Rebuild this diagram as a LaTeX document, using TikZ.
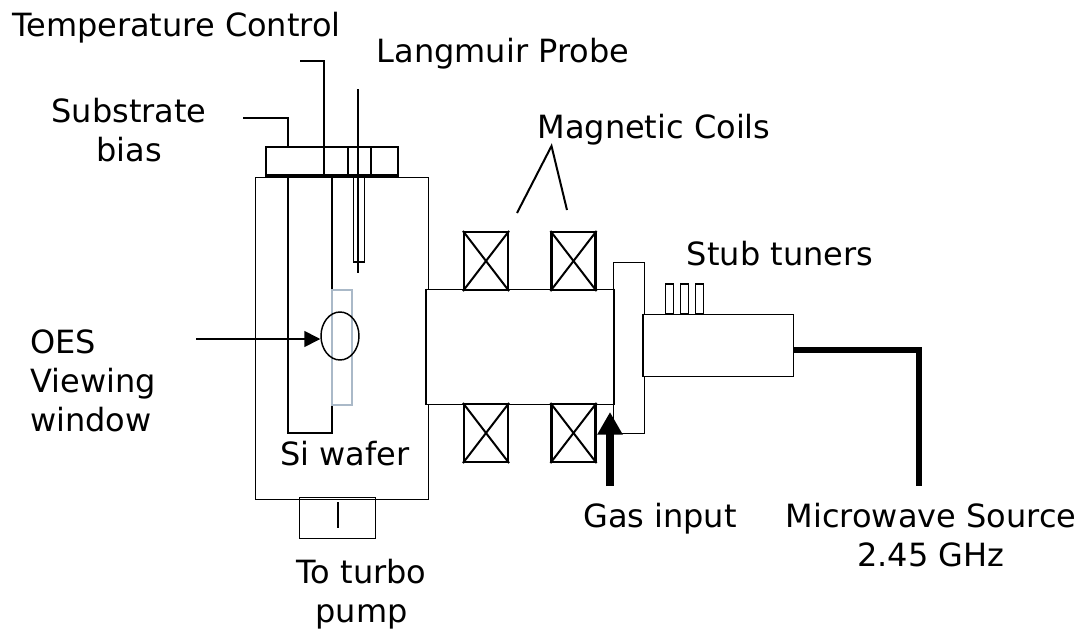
\documentclass[tikz,border=0pt]{standalone}
\usepackage{fontspec}
\setmainfont{DejaVu Sans}
\usetikzlibrary{arrows.meta,shapes.geometric}
\definecolor{WF}{RGB}{170,185,200}
\tikzset{
    LB/.style ={font=\fontsize{24}{29}\selectfont,align=center,inner sep=0pt,anchor=base},
    WL/.style ={line width=0.75pt},
    TL/.style ={line width=1.5pt},
    BX/.style ={rectangle,draw,inner sep=0pt},
    CO/.style ={rectangle,minimum width = 33pt, minimum height =43.5pt, draw, line width=1.6pt,inner sep=0pt},
    ST/.style ={rectangle,minimum width = 6.5pt, minimum height =22.5pt, draw, line width=0.9pt,inner sep=0pt},
    AR/.style ={-{Triangle[length=12pt,width=12pt]},line width=1.2pt}}

\begin{document}
\begin{tikzpicture}[x=0.75pt,y=-0.75pt]
        \useasboundingbox (0,0) rectangle (1083,632);
        % chamber, tube, flange, waveguide
        \node[BX,WL,minimum width=129.75pt,minimum height=241.5pt] (chamber) at(341.5,338){};
        \node[BX,TL,minimum width=99pt,minimum height=21pt] (top) at(332,161){};
        \node[BX,TL,minimum width=17.25pt,minimum height=21pt] (port) at(359.5,161){};
        \node[BX,WL,minimum width=57pt,minimum height=30.75pt] (pump) at(337.5,517.5){};
        \node[BX,WL,minimum width=23.25pt,minimum height=128.25pt] (flange) at(628.5,347.5){};
        \node[BX,fill=white,WL,minimum width=140.25pt,minimum height=86.25pt] (tube) at(520,346.5){};
        \node[BX,fill=white,WL,minimum width=112.5pt,minimum height=46.5pt] (guide) at(718,345){};
        \draw[TL] (tube.north east) -- (tube.south east);
        \draw[TL] (tube.north west) -- (tube.south west);
        \draw[TL] (guide.north west) -- (guide.south west);
        \draw[line width=3pt] (top.south west) -- (top.south east);
        % pump valve
        \coordinate (pa) at(338,502);
        \coordinate (pb) at(338,528);
        \draw[line width=1.2pt] (pa) -- (pb);
        % wafer holder and wafer
        \coordinate (ha) at(288,175);
        \coordinate (hb) at(288,433);
        \coordinate (hc) at(332,433);
        \coordinate (hd) at(332,175);
        \draw[TL] (ha) -- (hb) -- (hc) -- (hd);
        \node[BX,draw=WF,fill=white,line width=1.5pt,minimum width=15pt,minimum height=86pt] (wafer) at(342,347.5){};
        \node[draw,ellipse,line width=1.1pt,minimum width=28.5pt,minimum height=36pt,inner sep=0pt] (window) at(340,336){};
        \coordinate (wa) at(196,339);
        \draw[AR] (wa) -- (window.west |- wa);
        % feeds through the top
        \coordinate (ta) at(300,61);
        \coordinate (tb) at(323.5,61);
        \coordinate (tc) at(323.5,175);
        \draw[TL] (ta) -- (tb) -- (tc);
        \coordinate (sa) at(243,118);
        \coordinate (sb) at(288,118);
        \coordinate (sc) at(288,147);
        \draw[TL] (sa) -- (sb) -- (sc);
        \coordinate (la) at(358,89);
        \coordinate (lb) at(358,273);
        \draw[TL] (la) -- (lb);
        \node[BX,line width=1.2pt,minimum width=8pt,minimum height=65pt] (sleeve) at(359,218.5){};
        % coils
        \foreach \n/\x/\y in {c1/486/261, c2/573.5/261, c3/486/433, c4/573.5/433}{
            \node[CO] (\n) at(\x,\y){};
            \draw[TL] (\n.north west) -- (\n.south east);
            \draw[TL] (\n.north east) -- (\n.south west);
        }
        % stubs
        \foreach \n/\x in {s1/669.5, s2/684.5, s3/699.5}{
            \node[ST] (\n) at(\x,299){};
        }
        % microwave feed and gas
        \coordinate (ma) at(919,350);
        \coordinate (mb) at(919,486);
        \draw[line width=5pt] (guide.east |- ma) -- (ma) -- (mb);
        \coordinate (ga) at(610,486);
        \coordinate (gb) at(610,412);
        \draw[-{Triangle[length=17pt,width=18pt]},line width=6pt] (ga) -- (gb);
        \coordinate (ka) at(517,213);
        \coordinate (kb) at(551.5,146);
        \coordinate (kc) at(567,210);
        \draw[TL] (ka) -- (kb) -- (kc);
        % labels
        \node[LB] (tl1) at(176.5,36){Temperature Control};
        \node[LB] (tl2) at(503,62){Langmuir Probe};
        \node[LB] (tl3) at(129,161){Substrate\\bias};
        \node[LB] (tl4) at(654,138){Magnetic Coils};
        \node[LB] (tl5) at(780,265){Stub tuners};
        \node[LB,align=left,anchor=base west] (tl6) at(30,431){OES\\Viewing\\window};
        \node[LB] (tl7) at(345,465){Si wafer};
        \node[LB] (tl8) at(361.5,622){To turbo\\pump};
        \node[LB] (tl9) at(660,527){Gas input};
        \node[LB] (tl10) at(931,566){Microwave Source\\2.45 GHz};
    \end{tikzpicture}
\end{document}
